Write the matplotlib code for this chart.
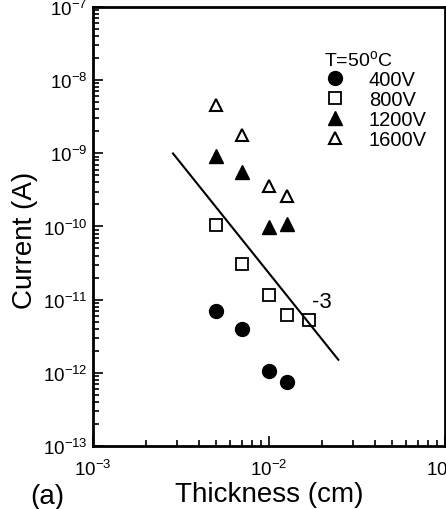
import matplotlib
matplotlib.use('Agg')
import matplotlib.pyplot as plt
import numpy as np

plt.rcParams['font.family'] = ['Liberation Sans', 'DejaVu Sans']
plt.rcParams['mathtext.fontset'] = 'custom'
plt.rcParams['mathtext.rm'] = 'Liberation Sans'
plt.rcParams['mathtext.default'] = 'regular'

# Leakage current vs thickness at T=50 C
t_400 = [5.0e-3, 7.0e-3, 1.0e-2, 1.26e-2]
i_400 = [7.0e-12, 4.0e-12, 1.07e-12, 7.4e-13]

t_800 = [5.0e-3, 7.0e-3, 1.0e-2, 1.26e-2, 1.69e-2]
i_800 = [1.05e-10, 3.1e-11, 1.15e-11, 6.2e-12, 5.3e-12]

t_1200 = [5.0e-3, 7.0e-3, 1.0e-2, 1.26e-2]
i_1200 = [9.3e-10, 5.6e-10, 9.8e-11, 1.09e-10]

t_1600 = [5.0e-3, 7.0e-3, 1.0e-2, 1.26e-2]
i_1600 = [4.5e-9, 1.75e-9, 3.6e-10, 2.6e-10]

# slope -3 guide line
fit_t = [2.85e-3, 2.48e-2]
fit_coef = 2.3e-17
fit_slope = -3

fig = plt.figure(figsize=(4.46, 5.10), dpi=100)
ax = fig.add_axes([0.2085, 0.1235, 0.789, 0.861])

ax.plot(t_400, i_400, 'o', color='black', ms=10, label='400V', linestyle='none')
ax.plot(t_800, i_800, 's', mfc='white', mec='black', mew=1.3, ms=8, label='800V', linestyle='none')
ax.plot(t_1200, i_1200, '^', color='black', ms=10, label='1200V', linestyle='none')
ax.plot(t_1600, i_1600, '^', mfc='white', mec='black', mew=1.5, ms=9, label='1600V', linestyle='none')

ft = np.array(fit_t)
ax.plot(ft, fit_coef * ft ** fit_slope, color='black', lw=1.5)
ax.text(2.0e-2, 9.5e-12, str(fit_slope), fontsize=16, ha='center', va='center')

ax.set_xscale('log')
ax.set_yscale('log')
ax.set_xlim(1e-3, 1e-1)
ax.set_ylim(1e-13, 1e-7)

ax.set_xticks([1e-3, 1e-2, 1e-1])
ax.set_xticklabels(['10$^{-3}$', '10$^{-2}$', '10$^{-1}$'])
yt = [1e-13, 1e-12, 1e-11, 1e-10, 1e-9, 1e-8, 1e-7]
ax.set_yticks(yt)
ax.set_yticklabels(['10$^{-%d}$' % n for n in [13, 12, 11, 10, 9, 8, 7]])

ax.tick_params(which='both', direction='in', labelsize=13.5, width=1.2)
ax.tick_params(which='major', length=7)
ax.tick_params(which='minor', length=4)
ax.tick_params(axis='x', pad=9)
ax.tick_params(axis='y', pad=4)
for s in ax.spines.values():
    s.set_linewidth(2)

ax.set_xlabel('Thickness (cm)', fontsize=20, labelpad=2)
ax.set_ylabel('Current (A)', fontsize=20)
ax.yaxis.set_label_coords(-0.155, 0.47)
fig.text(0.067, 0.012, '(a)', fontsize=20)

leg = ax.legend(loc='upper left', bbox_to_anchor=(0.635, 0.923), frameon=False,
                title='T=50$^{o}$C', fontsize=14.5, title_fontsize=14,
                handlelength=1.0, handletextpad=1.2, labelspacing=0.05,
                borderaxespad=0)
leg._legend_box.align = 'left'

fig.savefig('out.png', dpi=100)
